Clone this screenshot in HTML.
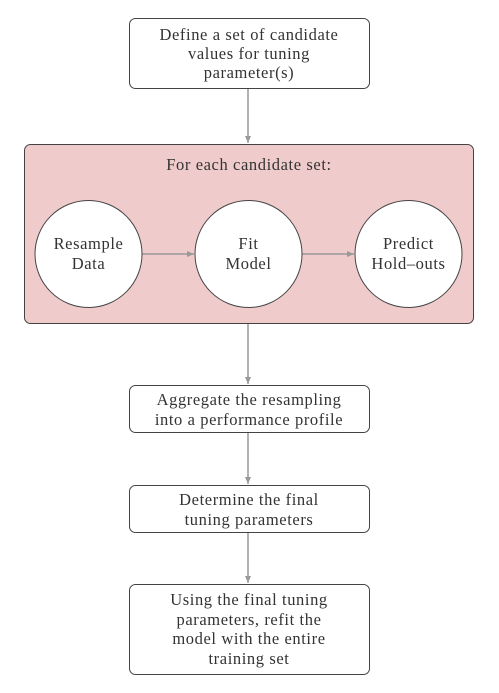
<!DOCTYPE html>
<html><head><meta charset="utf-8"><style>html,body{margin:0;padding:0;background:#fff;font-family:"Liberation Serif",serif}svg{display:block}svg text{font-family:"Liberation Serif","DejaVu Serif",serif !important;letter-spacing:0.6px}</style></head>
<body>
<svg width="499" height="693" viewBox="0 0 499 693" xmlns="http://www.w3.org/2000/svg" font-size="16.5" fill="#333">
<defs><marker id="a" markerWidth="8" markerHeight="8" refX="7" refY="4" orient="auto" markerUnits="userSpaceOnUse"><path d="M0,1 L7,4 L0,7 z" fill="#999"/></marker></defs>
<g stroke="#444" stroke-width="1" fill="#fff">
<rect x="129.5" y="18.5" width="240" height="70" rx="6"/>
<rect x="24.5" y="144.5" width="449" height="179" rx="6" fill="#efcbcb"/>
<circle cx="88.5" cy="254" r="53.5"/>
<circle cx="248.5" cy="254" r="53.5"/>
<circle cx="408.5" cy="254" r="53.5"/>
<rect x="129.5" y="385.5" width="240" height="47" rx="6"/>
<rect x="129.5" y="485.5" width="240" height="47" rx="6"/>
<rect x="129.5" y="584.5" width="240" height="90" rx="6"/>
</g>
<g stroke="#999" stroke-width="1.5" marker-end="url(#a)">
<line x1="248" y1="89" x2="248" y2="143"/>
<line x1="248" y1="324" x2="248" y2="384"/>
<line x1="248" y1="433" x2="248" y2="484"/>
<line x1="248" y1="533" x2="248" y2="583"/>
<line x1="142.5" y1="254" x2="194" y2="254"/>
<line x1="302.5" y1="254" x2="354" y2="254"/>
</g>
<g text-anchor="middle" font-family="Liberation Serif">
<text x="249" y="40">Define a set of candidate</text>
<text x="249" y="59">values for tuning</text>
<text x="249" y="78">parameter(s)</text>
<text x="249" y="170">For each candidate set:</text>
<text x="88.5" y="249">Resample</text>
<text x="88.5" y="269">Data</text>
<text x="248.5" y="249">Fit</text>
<text x="248.5" y="269">Model</text>
<text x="408.5" y="249">Predict</text>
<text x="408.5" y="269">Hold–outs</text>
<text x="249" y="405">Aggregate the resampling</text>
<text x="249" y="425">into a performance profile</text>
<text x="249" y="505">Determine the final</text>
<text x="249" y="525">tuning parameters</text>
<text x="249" y="605">Using the final tuning</text>
<text x="249" y="625">parameters, refit the</text>
<text x="249" y="644">model with the entire</text>
<text x="249" y="664">training set</text>
</g>
</svg>
</body></html>
